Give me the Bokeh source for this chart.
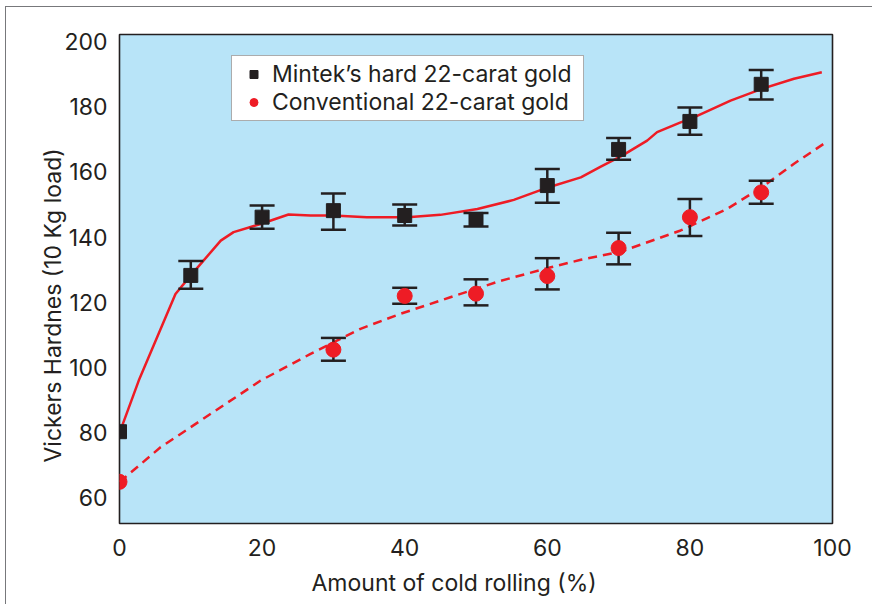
from bokeh.plotting import figure
from bokeh.models import (Range1d, Whisker, TeeHead, ColumnDataSource, Legend,
                          LegendItem, FixedTicker, Title)
from bokeh.embed import file_html
from bokeh.resources import INLINE

# ---- data ----
rolling = [0, 10, 20, 30, 40, 50, 60, 70, 80, 90]
mintek_hv = [80.2, 128.2, 146.1, 148.1, 146.6, 145.4, 155.8, 166.9, 175.5, 186.9]

mintek_err_x = [10, 20, 30, 40, 50, 60, 70, 80, 90]
mintek_upper = [132.6, 149.7, 153.4, 150.0, 147.4, 160.9, 170.4, 179.8, 191.3]
mintek_lower = [124.1, 142.5, 142.2, 143.5, 143.2, 150.5, 163.7, 171.4, 182.2]

conv_x = [0, 30, 40, 50, 60, 70, 80, 90]
conv_hv = [64.8, 105.4, 121.9, 122.6, 128.0, 136.6, 146.1, 153.7]
conv_err_x = [30, 40, 50, 60, 70, 80, 90]
conv_upper = [109.0, 124.4, 127.0, 133.5, 141.3, 151.7, 157.3]
conv_lower = [102.0, 119.5, 119.0, 123.9, 131.6, 140.3, 150.2]

# fitted curves
mintek_fit_x = [0.2, 2.7, 7.85, 10, 14.2, 16, 19.8, 23.7, 26.8, 30, 34.7, 40.4,
                45, 50.2, 55.3, 60.2, 64.7, 67.5, 70.5, 74, 75.4, 78.7, 80.1,
                85.7, 90.1, 94.6, 98.5]
mintek_fit_y = [81, 95.9, 122.5, 128.2, 138.9, 141.5, 144, 146.9, 146.6, 146.6,
                146.1, 146.1, 146.8, 148.6, 151.4, 155.3, 158.3, 161.6, 165,
                169.6, 172.2, 175.2, 176.3, 181.9, 185.5, 188.6, 190.6]
conv_fit_x = [0, 0.8, 5.75, 12.8, 19.8, 26.8, 33.8, 39.4, 46.4, 53.4, 60.5, 64.7,
              70.3, 78.7, 85.2, 90.1, 94.6, 99.1]
conv_fit_y = [64.8, 66.2, 75.4, 85.7, 95.9, 104.1, 111.8, 116.4, 121.5, 126.5,
              130.7, 133, 135.5, 142, 148.6, 155.3, 162.5, 169.1]

x_ticks = [0, 20, 40, 60, 80, 100]
y_ticks = [60, 80, 100, 120, 140, 160, 180, 200]

x_label = "Amount of cold rolling (%)"
y_label = "Vickers Hardnes (10 Kg load)"
mintek_name = "Mintek\u2019s hard 22-carat gold"
conv_name = "Conventional 22-carat gold"

# ---- style ----
FONT = "Inter"
FS = "23px"
TXT = "#231f20"
RED = "#ee1c25"
BLK = "#231f20"
BG = "#b8e4f8"

p = figure(frame_width=713, frame_height=489,
           min_border_left=113, min_border_top=27, min_border_right=40,
           min_border_bottom=80,
           x_range=Range1d(0, 100), y_range=Range1d(52, 202.2),
           output_backend="svg", toolbar_location=None,
           background_fill_color=BG, border_fill_color="white")
p.styles = {"border-left": "1px solid #77787b", "border-top": "1px solid #77787b",
            "margin-left": "5px", "margin-top": "6px"}

p.outline_line_color = BLK
p.outline_line_width = 1.6
p.grid.visible = False

for ax in (p.xaxis[0], p.yaxis[0]):
    ax.axis_line_color = None
    ax.major_tick_line_color = None
    ax.minor_tick_line_color = None
    ax.major_tick_out = 0
    ax.major_tick_in = 0
    ax.major_label_text_font = FONT
    ax.major_label_text_font_size = FS
    ax.major_label_text_color = TXT

p.xaxis.ticker = FixedTicker(ticks=x_ticks)
p.yaxis.ticker = FixedTicker(ticks=y_ticks)
p.xaxis.major_label_standoff = 15
p.yaxis.major_label_standoff = 12

# axis titles (slightly off-centre, as in the original)
p.add_layout(Title(text=x_label, align="left", offset=192, standoff=16,
                   text_font=FONT, text_font_size=FS, text_font_style="normal",
                   text_color=TXT), "below")
p.add_layout(Title(text=y_label, align="left", offset=61, standoff=-10,
                   text_font=FONT, text_font_size=FS, text_font_style="normal",
                   text_color=TXT), "left")

# curves
p.line(mintek_fit_x, mintek_fit_y, line_color=RED, line_width=2.5, level="underlay")
p.line(conv_fit_x, conv_fit_y, line_color=RED, line_width=2.5, line_dash="9 6",
       level="underlay")

# error bars
for ex, up, lo in ((mintek_err_x, mintek_upper, mintek_lower),
                   (conv_err_x, conv_upper, conv_lower)):
    src = ColumnDataSource(dict(x=ex, upper=up, lower=lo))
    w = Whisker(source=src, base="x", upper="upper", lower="lower",
                dimension="height", line_color=BLK, line_width=2.5,
                upper_head=TeeHead(size=25, line_width=2.5, line_color=BLK),
                lower_head=TeeHead(size=25, line_width=2.5, line_color=BLK),
                level="underlay")
    p.add_layout(w)

sq = p.scatter(rolling, mintek_hv, marker="square", size=14,
               fill_color=BLK, line_color=BLK)
ci = p.scatter(conv_x, conv_hv, marker="circle", size=15,
               fill_color=RED, line_color=RED)

legend = Legend(items=[LegendItem(label=mintek_name, renderers=[sq]),
                       LegendItem(label=conv_name, renderers=[ci])],
                location=(112, 402))
legend.label_text_font = FONT
legend.label_text_font_size = FS
legend.label_text_color = TXT
legend.border_line_color = "#58595b"
legend.border_line_width = 1.2
legend.background_fill_color = "white"
legend.background_fill_alpha = 1.0
legend.padding = 4
legend.spacing = 0
legend.glyph_width = 35
legend.glyph_height = 20
legend.label_height = 20
legend.label_width = 307
legend.label_standoff = 1
legend.margin = 0
p.add_layout(legend)

open("out.html", "w").write(file_html(p, INLINE))
